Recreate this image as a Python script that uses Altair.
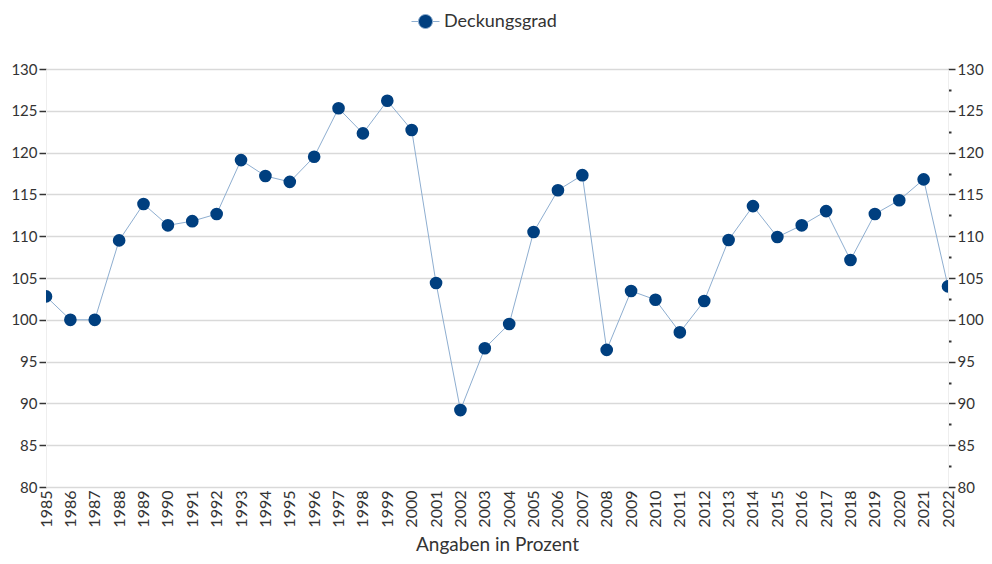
import altair as alt
import pandas as pd

years = [str(y) for y in range(1985, 2023)]
values = [102.8, 100.0, 100.0, 109.5, 113.85, 111.3, 111.8, 112.65, 119.1, 117.2,
          116.5, 119.5, 125.3, 122.3, 126.2, 122.7, 104.4, 89.2, 96.6, 99.5,
          110.5, 115.5, 117.3, 96.4, 103.45, 102.4, 98.5, 102.25, 109.55, 113.6,
          109.9, 111.3, 113.0, 107.15, 112.65, 114.3, 116.8, 104.0]
series = ["Deckungsgrad"] * len(years)
y_ticks = [80 + 2.5 * i for i in range(21)]

df = pd.DataFrame({"Jahr": years, "Wert": values, "Serie": series})

FONT = "Lato"
DARK = "#003f7f"
LIGHT = "#8eaed0"

y_scale = alt.Scale(domain=[80, 130], nice=False, zero=False)
x_enc = alt.X("Jahr:O", scale=alt.Scale(type="point", padding=0),
              axis=alt.Axis(title="Angaben in Prozent", labelAngle=-90, ticks=False, domain=False,
                            labelFontSize=16, labelColor="#333333", labelPadding=3,
                            titleFontSize=19, titleFontWeight="normal", titleColor="#333333",
                            titlePadding=8, labelFont=FONT, titleFont=FONT))


def y_axis(orient, grid):
    return alt.Axis(
        orient=orient, values=y_ticks, title=None, grid=grid,
        labelExpr="datum.value % 5 == 0 ? datum.label : ''",
        tickSize={"condition": {"test": "datum.value % 5 != 0", "value": 3}, "value": 7},
        tickWidth={"condition": {"test": "datum.value % 5 != 0", "value": 2}, "value": 1.5},
        gridOpacity={"condition": {"test": "datum.value % 5 != 0", "value": 0}, "value": 1},
        gridColor="#d9d9d9", gridWidth=1.6,
        tickColor="#333333", domainColor="#eeeeee", domainWidth=1,
        labelFontSize=15, labelColor="#333333", labelFont=FONT, labelPadding=2,
    )


base = alt.Chart(df)
line = base.mark_line(color=LIGHT, strokeWidth=1, clip=True).encode(
    x=x_enc, y=alt.Y("Wert:Q", scale=y_scale, axis=y_axis("left", True)))
points = base.mark_point(filled=True, size=160, opacity=1, clip=True).encode(
    x=x_enc,
    y=alt.Y("Wert:Q", scale=y_scale),
    color=alt.Color("Serie:N", scale=alt.Scale(range=[DARK]),
                    legend=alt.Legend(title=None, orient="none", legendX=365, legendY=-62,
                                      symbolType="M-1,0H-0.5M0.5,0H1M0.5,0A0.5,0.5 0 1,1 -0.5,0A0.5,0.5 0 1,1 0.5,0Z",
                                      symbolSize=784, symbolStrokeColor=LIGHT, symbolStrokeWidth=1,
                                      symbolFillColor=DARK, symbolOpacity=1,
                                      labelFontSize=18, labelColor="#333333", labelFont=FONT)),
)
left = alt.layer(line, points)
right = base.mark_point(opacity=0).encode(
    x=x_enc, y=alt.Y("Wert:Q", scale=y_scale, axis=y_axis("right", False)))

chart = alt.layer(left, right).resolve_scale(y="independent").properties(
    width=902, height=418, autosize="none",
    padding={"left": 38, "top": 61, "right": 36, "bottom": 67},
).configure_view(stroke=None)

chart.save("out.html", embed_options={"renderer": "svg", "actions": False})
